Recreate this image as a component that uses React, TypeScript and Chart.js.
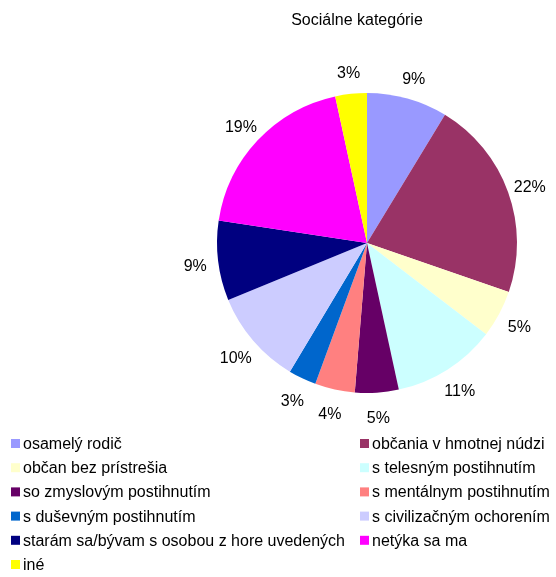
import React, { useEffect, useRef } from "react";
import { Chart, registerables } from "chart.js";

Chart.register(...registerables);

const TITLE = "Sociálne kategórie";
const categories = [
  "osamelý rodič",
  "občania v hmotnej núdzi",
  "občan bez prístrešia",
  "s telesným postihnutím",
  "so zmyslovým postihnutím",
  "s mentálnym postihnutím",
  "s duševným postihnutím",
  "s civilizačným ochorením",
  "starám sa/bývam s osobou z hore uvedených",
  "netýka sa ma",
  "iné",
];
const values = [8.7, 21.6, 5.1, 11.2, 4.7, 4.3, 3.0, 10.2, 8.6, 19.2, 3.4];
const colors = [
  "#9999FF",
  "#993366",
  "#FFFFCC",
  "#CCFFFF",
  "#660066",
  "#FF8080",
  "#0066CC",
  "#CCCCFF",
  "#000080",
  "#FF00FF",
  "#FFFF00",
];

const FONT = '"Liberation Sans", Arial, sans-serif';

const overlayPlugin = {
  id: "overlay",
  afterDraw(chart: any) {
    const ctx = chart.ctx as CanvasRenderingContext2D;
    const meta = chart.getDatasetMeta(0);
    const data = chart.data.datasets[0].data as number[];
    const total = data.reduce((a, b) => a + b, 0);
    ctx.save();
    // title
    ctx.fillStyle = "#000";
    ctx.font = `16px ${FONT}`;
    ctx.textAlign = "center";
    ctx.textBaseline = "middle";
    ctx.fillText(TITLE, 357, 21);
    // percentage labels
    meta.data.forEach((arc: any, i: number) => {
      const mid = (arc.startAngle + arc.endAngle) / 2;
      const r = arc.outerRadius + 23;
      const x = arc.x + Math.cos(mid) * r;
      const y = arc.y + Math.sin(mid) * r + 3;
      ctx.fillText(Math.round((data[i] / total) * 100) + "%", x, y);
    });
    // legend
    ctx.textAlign = "left";
    const labels = chart.data.labels as string[];
    labels.forEach((lab: string, i: number) => {
      const col = i % 2;
      const row = Math.floor(i / 2);
      const x = col === 0 ? 11 : 360;
      const y = 443.5 + row * 24.2;
      ctx.fillStyle = colors[i];
      ctx.fillRect(x, y - 4.5, 9, 9);
      ctx.fillStyle = "#000";
      ctx.fillText(lab, x + 12, y + 1);
    });
    ctx.restore();
  },
};

export default function App() {
  const ref = useRef<HTMLCanvasElement>(null);
  useEffect(() => {
    const chart = new Chart(ref.current!, {
      type: "pie",
      data: {
        labels: categories,
        datasets: [
          {
            data: values,
            backgroundColor: colors,
            borderWidth: 0,
          },
        ],
      },
      options: {
        animation: false,
        responsive: false,
        layout: { padding: { left: 217, right: 39, top: 93, bottom: 184 } },
        plugins: {
          legend: { display: false },
          title: { display: false },
          tooltip: { enabled: false },
        },
      },
      plugins: [overlayPlugin],
    });
    return () => chart.destroy();
  }, []);
  return (
    <div style={{ position: "fixed", left: 0, top: 0, width: 556, height: 577, background: "#fff" }}>
      <canvas ref={ref} width={556} height={577} />
    </div>
  );
}
